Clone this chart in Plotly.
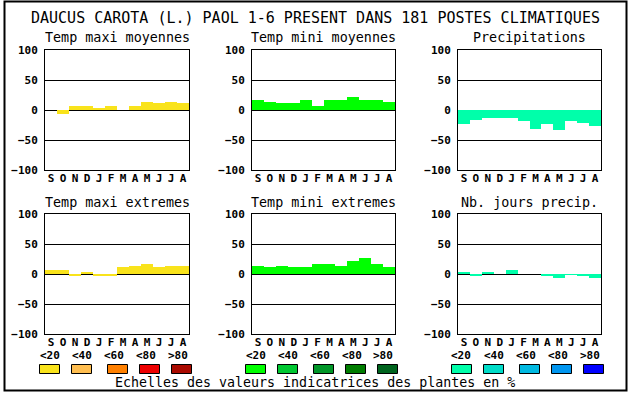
import plotly.graph_objects as go

W, H = 630, 394

months = ["S", "O", "N", "D", "J", "F", "M", "A", "M", "J", "J", "A"]
titles = ["Temp maxi moyennes", "Temp mini moyennes", "Precipitations",
          "Temp maxi extremes", "Temp mini extremes", "Nb. jours precip."]

temp_maxi_moy = [0, -7, 7, 6, 2, 6, 0, 6, 13, 11, 14, 12]
temp_mini_moy = [17, 14, 11, 12, 16, 7, 16, 16, 22, 16, 16, 14]
precipitations = [-24, -16, -13, -14, -13, -18, -31, -24, -33, -18, -21, -26]
temp_maxi_ext = [6, 6, -4, 2, -2, -4, 11, 14, 16, 12, 14, 14]
temp_mini_ext = [14, 11, 14, 12, 12, 16, 17, 14, 21, 26, 17, 12]
nb_jours_precip = [2, -4, 4, 0, 6, 0, 0, -2, -6, -1, -4, -6]

y_ticks = [-100, -50, 0, 50, 100]
scale_labels = ["<20", "<40", "<60", "<80", ">80"]
yellow_scale = ["#F9E31B", "#FFBE50", "#FF8000", "#EE0000", "#AA0A00"]
green_scale = ["#00FF00", "#00C832", "#009628", "#007D00", "#00641E"]
cyan_scale = ["#00FFAA", "#00DCC8", "#00B9E1", "#0096F0", "#0000FF"]

main_title = "DAUCUS CAROTA (L.) PAOL 1-6 PRESENT DANS 181 POSTES CLIMATIQUES"
caption = "Echelles des valeurs indicatrices des plantes en %"

series = [temp_maxi_moy, temp_mini_moy, precipitations,
          temp_maxi_ext, temp_mini_ext, nb_jours_precip]
colors = [yellow_scale[0], green_scale[0], cyan_scale[0],
          yellow_scale[0], green_scale[0], cyan_scale[0]]

MONO = "DejaVu Sans Mono"


def px(x):
    return x / W


def py(y):
    return 1 - y / H


col_px = [(45, 189), (252, 395), (458, 601)]
row_px = [(50, 170), (214, 334)]
title_y = [38, 202]

fig = go.Figure()
layout = {}
annotations = []
shapes = []

for i in range(6):
    r, c = divmod(i, 3)
    n = "" if i == 0 else str(i + 1)
    xa, ya = "x" + n, "y" + n
    fig.add_trace(go.Bar(
        x=list(range(12)), y=series[i], width=1,
        marker=dict(color=colors[i], line=dict(width=0)),
        xaxis=xa, yaxis=ya, showlegend=False, hoverinfo="y"))
    x0, x1 = col_px[c]
    y0, y1 = row_px[r]
    layout["xaxis" + n] = dict(
        domain=[px(x0), px(x1)], range=[-0.5, 11.5], anchor=ya,
        tickvals=list(range(12)), ticktext=months, showgrid=False,
        showline=True, mirror=True, linecolor="black", linewidth=1,
        ticks="", ticklabelstandoff=-2, zeroline=False, fixedrange=True,
        automargin=False,
        tickfont=dict(family=MONO, size=11, color="black", weight="bold"))
    layout["yaxis" + n] = dict(
        domain=[py(y1), py(y0)], range=[-100, 100], anchor=xa,
        tickvals=y_ticks, showgrid=True, gridcolor="black", gridwidth=1,
        showline=True, mirror=True, linecolor="black", linewidth=1,
        ticks="", ticklabelstandoff=4, zeroline=False, fixedrange=True,
        automargin=False,
        tickfont=dict(family=MONO, size=11, color="black", weight="bold"))
    annotations.append(dict(
        x=px((x0 + x1) / 2), y=py(title_y[r]), xref="paper", yref="paper",
        text=titles[i], showarrow=False, xanchor="center", yanchor="middle",
        font=dict(family=MONO, size=13.4, color="black")))

annotations.append(dict(
    x=px(315), y=py(18), xref="paper", yref="paper", text=main_title,
    showarrow=False, xanchor="center", yanchor="middle",
    font=dict(family=MONO, size=15, color="black")))
annotations.append(dict(
    x=px(315), y=py(382), xref="paper", yref="paper", text=caption,
    showarrow=False, xanchor="center", yanchor="middle",
    font=dict(family=MONO, size=13.3, color="black")))

group_x0 = [39.5, 245.5, 451.5]
box_rel = [0, 32, 68, 100, 132]
label_rel = [10, 42, 74, 106, 138]
for g, scale in enumerate([yellow_scale, green_scale, cyan_scale]):
    for k in range(5):
        bx = group_x0[g] + box_rel[k]
        shapes.append(dict(
            type="rect", xref="paper", yref="paper",
            x0=px(bx), x1=px(bx + 20), y0=py(373.5), y1=py(364.5),
            fillcolor=scale[k], line=dict(color="black", width=1)))
        annotations.append(dict(
            x=px(group_x0[g] + label_rel[k]), y=py(355), xref="paper",
            yref="paper", text=scale_labels[k], showarrow=False,
            xanchor="center", yanchor="middle",
            font=dict(family=MONO, size=11, color="black", weight="bold")))

shapes.append(dict(type="rect", xref="paper", yref="paper",
                   x0=px(4.5), x1=px(626.5), y0=py(390.5), y1=py(1.5),
                   line=dict(color="black", width=2), fillcolor="rgba(0,0,0,0)"))

fig.update_layout(
    width=W, height=H, autosize=False,
    margin=dict(l=0, r=0, t=0, b=0, pad=0, autoexpand=False),
    paper_bgcolor="white", plot_bgcolor="white", bargap=0,
    annotations=annotations, shapes=shapes, **layout)

fig.write_html("out.html", config={"displayModeBar": False},
               post_script="document.body.style.margin='0';"
                           "document.body.style.overflow='hidden';")
